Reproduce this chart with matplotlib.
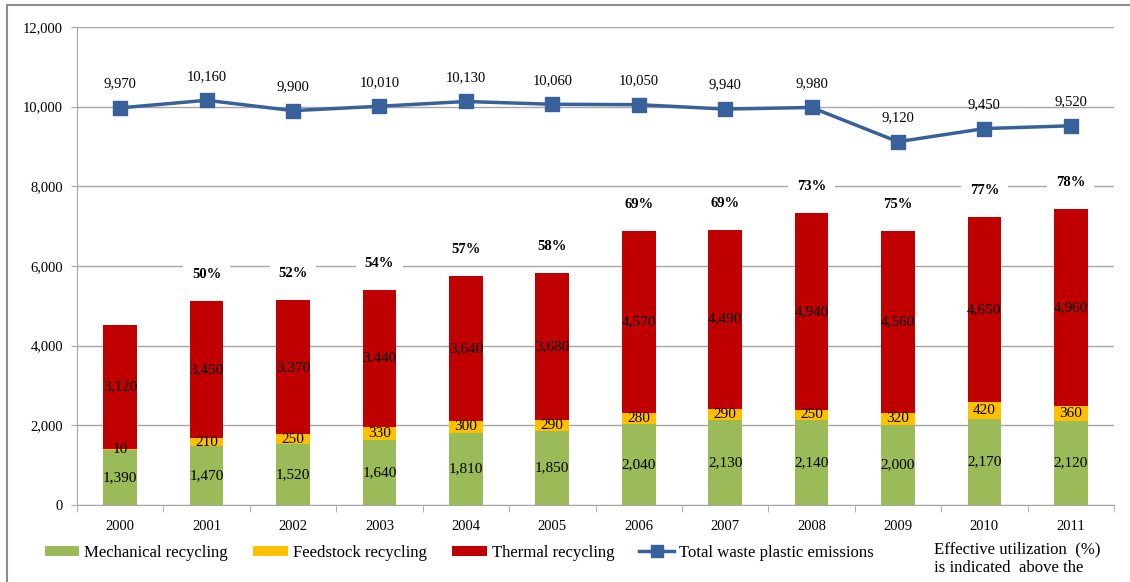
"""
Waste plastic recycling 2000-2011: stacked bars + total emissions line
"""

import numpy as np
import matplotlib.pyplot as plt
from matplotlib.patches import Rectangle, Patch
from matplotlib.lines import Line2D
from matplotlib.ticker import FuncFormatter

years = ['2000', '2001', '2002', '2003', '2004', '2005',
         '2006', '2007', '2008', '2009', '2010', '2011']
mechanical = [1390, 1470, 1520, 1640, 1810, 1850, 2040, 2130, 2140, 2000, 2170, 2120]
feedstock = [10, 210, 250, 330, 300, 290, 280, 290, 250, 320, 420, 360]
thermal = [3120, 3450, 3370, 3440, 3640, 3680, 4570, 4490, 4940, 4560, 4650, 4960]
total_emissions = [9970, 10160, 9900, 10010, 10130, 10060, 10050, 9940, 9980, 9120, 9450, 9520]
utilization = [None, 50, 52, 54, 57, 58, 69, 69, 73, 75, 77, 78]

COLORS = {
    'mechanical': '#9bbb59',
    'feedstock': '#ffc000',
    'thermal': '#c00000',
    'line': '#386199',
    'grid': '#a6a6a6',
}

plt.rcParams['font.family'] = ['Liberation Serif', 'DejaVu Serif']

fig = plt.figure(figsize=(11.3, 5.82), dpi=100)
ax = fig.add_axes([77 / 1130, 1 - 505 / 582, (1114 - 77) / 1130, (505 - 27) / 582])

x = np.arange(len(years))
mech = np.array(mechanical)
feed = np.array(feedstock)
therm = np.array(thermal)
W = 0.39

ax.bar(x, mech, W, color=COLORS['mechanical'], zorder=2)
ax.bar(x, feed, W, bottom=mech, color=COLORS['feedstock'], zorder=2)
ax.bar(x, therm, W, bottom=mech + feed, color=COLORS['thermal'], zorder=2)

# segment labels
for i in range(len(years)):
    ax.text(x[i], mech[i] / 2, f'{mech[i]:,}', ha='center', va='center', fontsize=11, zorder=4)
    ax.text(x[i], mech[i] + feed[i] / 2, f'{feed[i]:,}', ha='center', va='center', fontsize=11, zorder=4)
    ax.text(x[i], mech[i] + feed[i] + therm[i] / 2, f'{therm[i]:,}', ha='center', va='center',
            fontsize=11, zorder=4)

# effective utilization above the bars
tops = mech + feed + therm
for i, u in enumerate(utilization):
    if u is None:
        continue
    ax.text(x[i], tops[i] + 660, f'{u}%', ha='center', va='center', fontsize=10.5,
            fontweight='bold', zorder=3,
            bbox=dict(boxstyle='square,pad=0.6', fc='white', ec='none'))

# total emissions line
ax.plot(x, total_emissions, color=COLORS['line'], lw=2.5, marker='s', ms=10,
        mec=COLORS['line'], zorder=5)
for i, v in enumerate(total_emissions):
    ax.text(x[i], v + 600, f'{v:,}', ha='center', va='center', fontsize=10.5, zorder=5)

ax.set_xlim(-0.5, len(years) - 0.5)
ax.set_ylim(0, 12000)
ax.set_yticks(np.arange(0, 12001, 2000))
ax.yaxis.set_major_formatter(FuncFormatter(lambda v, p: f'{int(v):,}'))
ax.grid(axis='y', color=COLORS['grid'], lw=1, zorder=0)
ax.set_axisbelow(True)

ax.set_xticks(x)
ax.set_xticklabels(years)
ax.set_xticks(np.arange(-0.5, len(years)), minor=True)
ax.tick_params(axis='x', which='major', length=0, labelsize=10.5, pad=11)
ax.tick_params(axis='x', which='minor', length=5, color=COLORS['grid'])
ax.tick_params(axis='y', length=4, color=COLORS['grid'], labelsize=10.5, pad=6)

for s in ['top', 'right']:
    ax.spines[s].set_visible(False)
for s in ['left', 'bottom']:
    ax.spines[s].set_color(COLORS['grid'])

# legend
handles = [
    Patch(fc=COLORS['mechanical'], label='Mechanical recycling'),
    Patch(fc=COLORS['feedstock'], label='Feedstock recycling'),
    Patch(fc=COLORS['thermal'], label='Thermal recycling'),
    Line2D([0], [0], color=COLORS['line'], lw=2.5, marker='s', ms=9, label='Total waste plastic emissions'),
]
fig.legend(handles=handles, loc='center left', bbox_to_anchor=(45 / 1130, 1 - 553 / 582),
           ncol=4, frameon=False, fontsize=12.1, handlelength=2.05, handleheight=0.6,
           handletextpad=0.3, columnspacing=1.5, borderpad=0, borderaxespad=0)

fig.text(934 / 1130, 1 - 549 / 582, 'Effective utilization  (%)', fontsize=12.1, va='center')
fig.text(934 / 1130, 1 - 568 / 582, 'is indicated  above the', fontsize=12.1, va='center')

# outer frame
fig.patches.append(Rectangle((7 / 1130, -0.1), 1.2, 1 - 5 / 582 + 0.1, transform=fig.transFigure,
                             fill=False, ec='#8c8c8c', lw=1.5))

fig.savefig('out.png', dpi=100)
